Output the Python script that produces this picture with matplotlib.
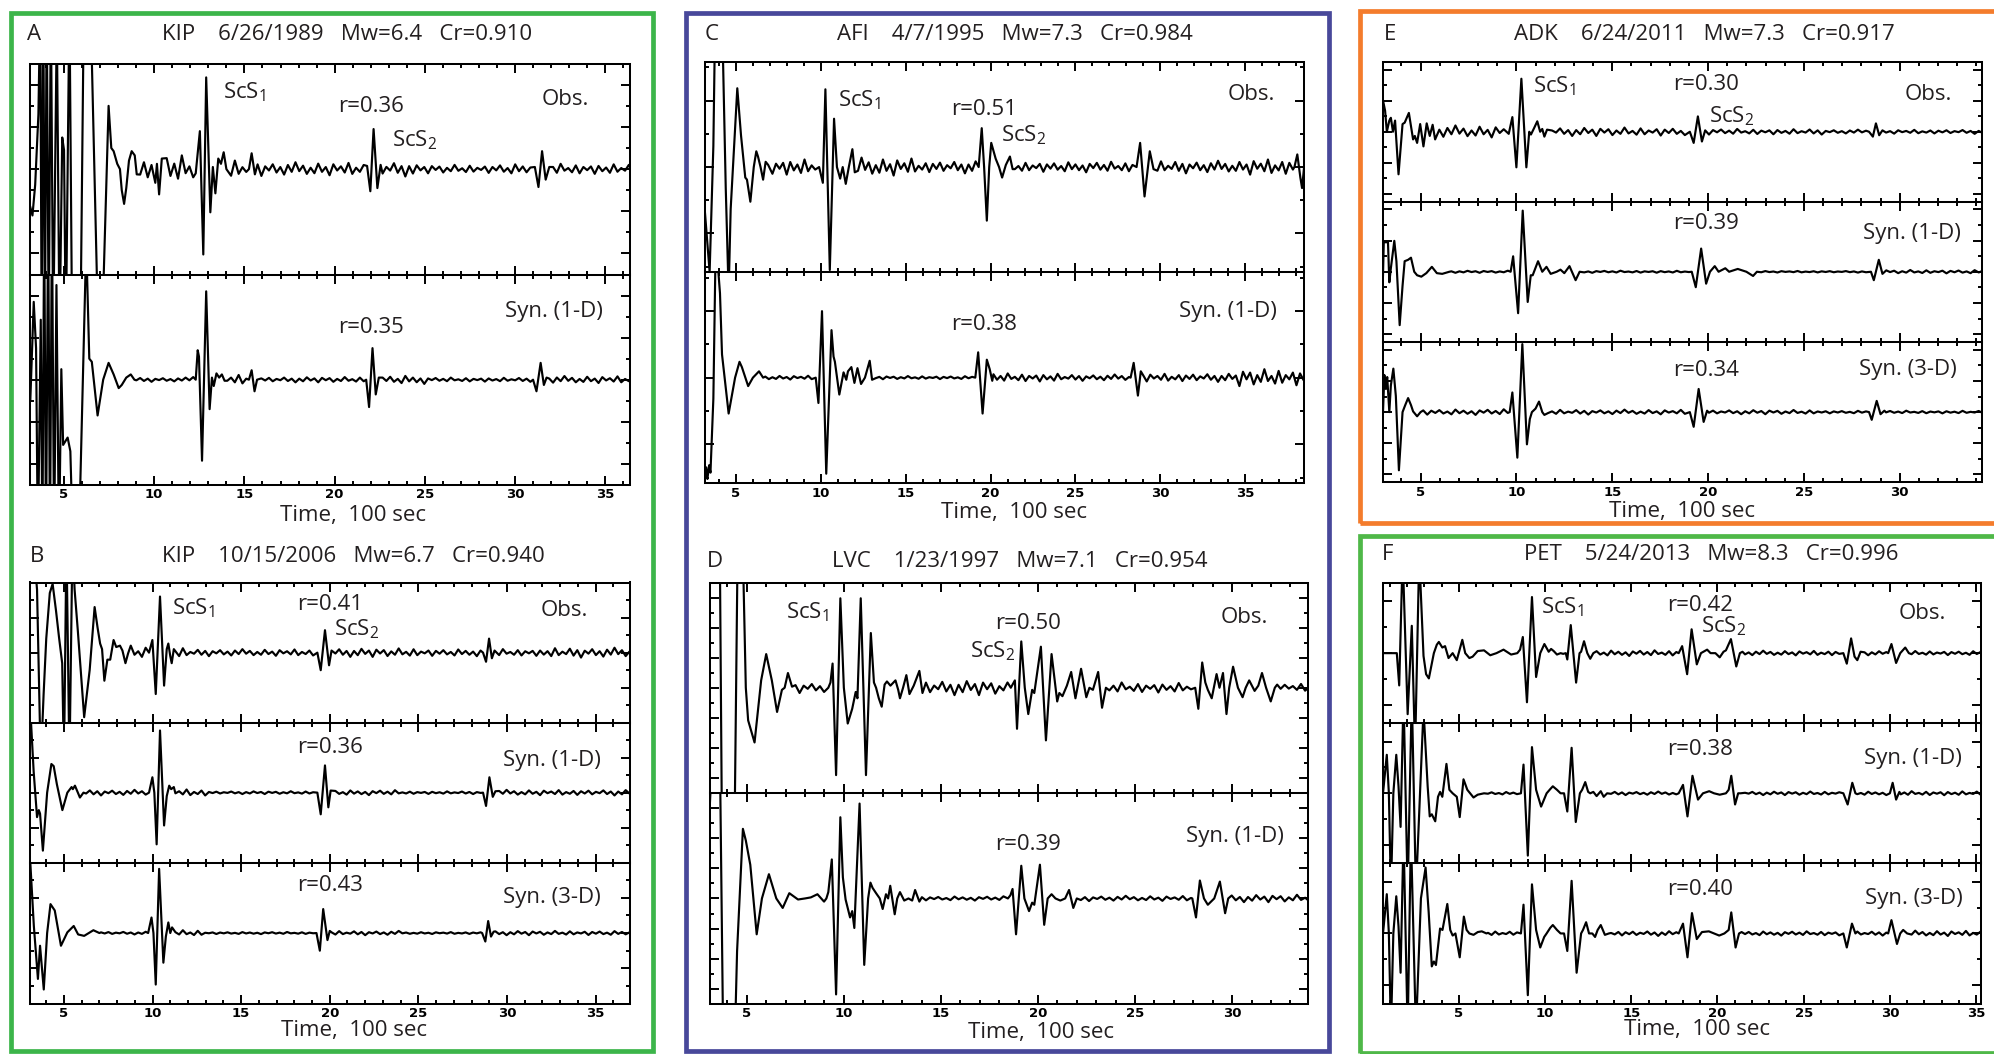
import numpy as np
import matplotlib
matplotlib.use("Agg")
import matplotlib.pyplot as plt
from matplotlib.patches import Rectangle
from matplotlib.ticker import FixedLocator, MultipleLocator

# ---------------------------------------------------------------------------
# Event metadata
# ---------------------------------------------------------------------------
PANEL_KEYS = ["A", "B", "C", "D", "E", "F"]
STATIONS = ["KIP", "KIP", "AFI", "LVC", "ADK", "PET"]
DATES = ["6/26/1989", "10/15/2006", "4/7/1995", "1/23/1997", "6/24/2011", "5/24/2013"]
MAGNITUDES = [6.4, 6.7, 7.3, 7.1, 7.3, 8.3]
CROSS_CORR = [0.910, 0.940, 0.984, 0.954, 0.917, 0.996]

TRACE_KINDS = {
    "A": ["obs", "syn1"],
    "B": ["obs", "syn1", "syn3"],
    "C": ["obs", "syn1"],
    "D": ["obs", "syn1"],
    "E": ["obs", "syn1", "syn3"],
    "F": ["obs", "syn1", "syn3"],
}
KIND_LABELS = {"obs": "Obs.", "syn1": "Syn. (1-D)", "syn3": "Syn. (3-D)"}

R_VALUES = {
    "A": [0.36, 0.35],
    "B": [0.41, 0.36, 0.43],
    "C": [0.51, 0.38],
    "D": [0.50, 0.39],
    "E": [0.30, 0.39, 0.34],
    "F": [0.42, 0.38, 0.40],
}

# ---------------------------------------------------------------------------
# Seismograms: turning points (time in 100 s, normalised amplitude) of each
# arrival group, plus a background microseism level per time window.
# ---------------------------------------------------------------------------
WIGGLE_STEP = 0.21
WIGGLE = [0.4, -0.6, 0.9, -0.3, 0.5, -1.0, 0.7, -0.2, 0.6, -0.8, 0.3, -0.5, 1.0, -0.4, 0.2,
          -0.7, 0.8, -0.6, 0.3, -0.2, 0.6, -0.9, 0.5, -0.3, 0.7, -0.5, 0.2, -0.8, 0.9, -0.4,
          0.5, -0.6, 0.3, -1.0, 0.6, -0.2, 0.8, -0.5, 0.4, -0.7, 1.0, -0.3, 0.2, -0.6, 0.7,
          -0.8, 0.4, -0.2, 0.5, -0.9, 0.6, -0.4, 0.3, -0.7, 0.9, -0.5, 0.2, -0.3, 0.8, -0.6,
          0.5, -1.0, 0.4, -0.2, 0.7, -0.5, 0.3, -0.8, 0.6, -0.4, 1.0, -0.3, 0.5, -0.7, 0.2,
          -0.6, 0.8, -0.4, 0.3, -0.9, 0.7, -0.2, 0.4, -0.5, 0.9, -0.7, 0.2, -0.4, 0.6, -0.8,
          0.5, -0.3, 0.7, -0.6, 0.3, -0.2, 0.8, -0.5, 0.4, -1.0]

# --- A: KIP 1989 ---
A_OBS = [
    [(3.13, -0.36), (3.25, -0.44), (3.4, -0.15), (3.58, 0.52), (3.68, 1.6), (3.76, -1.6), (3.85, 1.6),
     (3.94, -1.6), (4.04, 1.6), (4.15, -1.6), (4.27, 1.6), (4.4, -1.6), (4.6, 1.4), (4.75, -1.6),
     (4.9, 0.3), (5.0, 0.18), (5.1, -1.6), (5.3, 1.6), (5.45, -1.6), (5.9, -1.7), (6.1, 1.6),
     (6.45, 1.7), (6.9, -1.6), (7.1, -1.6), (7.47, 0.6), (7.62, 0.2), (7.75, 0.17), (7.95, 0.05),
     (8.1, 0.0), (8.2, -0.2), (8.33, -0.33), (8.45, -0.18), (8.6, 0.08), (8.75, 0.17), (8.92, 0.13),
     (9.03, -0.05)],
    [(10.15, 0.05), (10.27, -0.24), (10.42, 0.1)],
    [(12.3, -0.04), (12.53, 0.36), (12.72, -0.81), (12.88, 0.87), (13.11, -0.41), (13.25, 0.02),
     (13.39, -0.23), (13.55, 0.1), (13.7, 0.05), (13.85, 0.16), (14.0, 0.0)],
    [(15.25, 0.0), (15.4, 0.15), (15.58, -0.05)],
    [(21.8, 0.03), (21.98, -0.21), (22.16, 0.38), (22.37, -0.18), (22.55, 0.04)],
    [(31.1, 0.02), (31.3, -0.17), (31.5, 0.17), (31.7, -0.1), (31.9, 0.02)],
]
A_OBS_NOISE = [(3.0, 0.13), (14.0, 0.09), (15.8, 0.065), (22.5, 0.07), (24.5, 0.04), (29.0, 0.05)]

A_SYN1 = [
    [(3.13, -0.2), (3.32, 0.74), (3.45, 0.3), (3.55, -1.6), (3.71, 0.57), (3.8, -1.6), (3.9, 1.6),
     (4.0, -1.6), (4.12, 1.6), (4.22, -1.6), (4.33, 1.6), (4.45, -1.6), (4.58, 0.9), (4.72, -1.6),
     (4.85, 0.1), (4.95, -0.62), (5.2, -0.55), (5.35, -0.68), (5.5, -1.6), (5.8, -1.7), (6.23, 1.3),
     (6.4, 0.2), (6.54, 0.17), (6.86, -0.34), (7.17, 0.0), (7.47, 0.16), (7.75, 0.05), (8.03, -0.08),
     (8.2, -0.05), (8.45, 0.02), (8.7, 0.05), (8.9, 0.0)],
    [(12.3, 0.0), (12.41, 0.28), (12.48, 0.22), (12.65, -0.77), (12.88, 0.84), (13.07, -0.28),
     (13.2, 0.02), (13.3, -0.06), (13.45, 0.06), (13.6, 0.02), (13.75, 0.05), (13.9, -0.01)],
    [(15.25, 0.0), (15.4, 0.09), (15.56, -0.11), (15.7, 0.0)],
    [(21.75, 0.0), (21.91, -0.26), (22.1, 0.3), (22.28, -0.14), (22.45, 0.02)],
    [(31.0, 0.0), (31.19, -0.11), (31.42, 0.16), (31.6, -0.05), (31.75, 0.02)],
]
A_SYN1_NOISE = [(3.0, 0.02), (12.0, 0.05), (15.8, 0.025), (22.4, 0.04), (25.0, 0.02), (31.7, 0.035)]

# --- B: KIP 2006 ---
B_OBS = [
    [(3.1, 1.6), (3.25, 1.6), (3.48, 0.9), (3.69, -1.6), (3.85, -0.6), (4.0, 0.2), (4.2, 0.85),
     (4.36, 0.98), (4.55, 0.6), (4.72, 0.22), (4.9, -0.15), (5.0, -1.6), (5.14, 1.6), (5.31, -1.6),
     (5.48, 1.6), (5.6, 0.9), (5.78, 0.32), (6.14, -0.92), (6.45, -0.25), (6.73, 0.65), (6.9, 0.35),
     (7.04, 0.13), (7.15, 0.05), (7.28, -0.4), (7.45, -0.1), (7.61, -0.1), (7.8, 0.18), (7.95, 0.08),
     (8.16, 0.1), (8.3, 0.03), (8.47, -0.15), (8.62, -0.01)],
    [(9.8, 0.0), (9.99, 0.18), (10.18, -0.59), (10.42, 0.8), (10.65, -0.47), (10.8, 0.05),
     (10.89, 0.13), (11.0, -0.05), (11.08, -0.15), (11.2, 0.05)],
    [(19.3, 0.0), (19.49, -0.25), (19.73, 0.32), (19.96, -0.18), (20.1, 0.03)],
    [(28.65, 0.0), (28.82, -0.13), (28.99, 0.2), (29.15, -0.08), (29.3, 0.03)],
]
B_OBS_NOISE = [(3.0, 0.1), (11.2, 0.07), (12.0, 0.05), (20.1, 0.06), (25.0, 0.05), (32.0, 0.07)]

B_SYN1 = [
    [(3.1, 1.2), (3.29, 0.3), (3.48, -0.35), (3.58, -0.25), (3.65, -0.3), (3.81, -0.83), (4.05, 0.0),
     (4.29, 0.41), (4.42, 0.38), (4.6, 0.12), (4.91, -0.25), (5.19, 0.0), (5.43, 0.08), (5.5, 0.05),
     (5.62, 0.1), (5.9, -0.07), (6.1, 0.0)],
    [(9.8, 0.0), (9.99, 0.22), (10.1, 0.0), (10.23, -0.74), (10.42, 0.89), (10.65, -0.47),
     (10.8, -0.05), (10.94, 0.1), (11.05, 0.05), (11.2, 0.08)],
    [(19.3, 0.0), (19.49, -0.31), (19.73, 0.39), (19.92, -0.21), (20.05, 0.03)],
    [(28.65, 0.0), (28.82, -0.19), (29.01, 0.22), (29.2, -0.06), (29.35, 0.02)],
]
B_SYN1_NOISE = [(3.0, 0.04), (11.2, 0.05), (13.0, 0.02), (20.0, 0.035), (24.0, 0.02), (29.3, 0.04)]

B_SYN3 = [
    [(3.1, 1.0), (3.3, 0.1), (3.53, -0.65), (3.65, -0.18), (3.86, -0.8), (4.05, 0.0), (4.24, 0.41),
     (4.48, 0.32), (4.83, -0.18), (5.19, 0.01), (5.35, 0.05), (5.55, 0.1), (5.8, -0.02),
     (6.14, -0.04), (6.66, 0.04), (7.0, 0.0)],
    [(9.75, 0.0), (9.94, 0.22), (10.05, 0.0), (10.18, -0.73), (10.37, 0.91), (10.61, -0.42),
     (10.75, -0.05), (10.89, 0.15), (11.0, 0.0), (11.1, 0.08)],
    [(19.25, 0.0), (19.44, -0.25), (19.63, 0.34), (19.87, -0.1), (20.0, 0.03)],
    [(28.6, 0.0), (28.78, -0.12), (28.94, 0.17), (29.1, -0.05), (29.25, 0.02)],
]
B_SYN3_NOISE = [(3.0, 0.02), (10.9, 0.04), (12.8, 0.015), (20.0, 0.03), (24.0, 0.015), (29.3, 0.03)]

# --- C: AFI 1995 ---
C_OBS = [
    [(3.16, -0.4), (3.45, -1.0), (3.67, 0.2), (3.8, 1.7), (4.15, 1.7), (4.4, -0.2), (4.57, -1.2),
     (4.69, -0.4), (5.08, 0.75), (5.3, 0.3), (5.55, -0.1), (5.65, -0.12), (5.85, -0.33), (6.05, 0.0),
     (6.2, 0.15), (6.3, 0.1), (6.45, 0.0), (6.6, -0.12), (6.75, 0.05), (6.9, 0.02)],
    [(9.9, 0.0), (10.12, -0.15), (10.27, 0.74), (10.53, -0.98), (10.78, 0.46), (10.95, 0.0),
     (11.14, -0.11), (11.29, 0.0), (11.47, -0.16), (11.65, 0.0), (11.86, 0.17), (12.0, -0.05)],
    [(19.3, 0.0), (19.48, 0.37), (19.62, 0.0), (19.78, -0.51), (19.92, 0.0), (20.04, 0.23),
     (20.3, 0.08), (20.5, 0.0), (20.68, -0.1), (20.9, 0.02), (21.14, 0.1), (21.3, -0.02)],
    [(28.6, 0.0), (28.81, 0.23), (29.07, -0.28), (29.38, 0.15), (29.6, -0.02)],
    [(37.9, 0.0), (38.07, 0.12), (38.25, -0.1), (38.35, -0.2), (38.47, 0.0)],
]
C_OBS_NOISE = [(3.0, 0.08), (12.0, 0.09), (15.5, 0.06), (21.3, 0.05), (27.5, 0.05), (30.0, 0.06), (35.0, 0.08)]

C_SYN1 = [
    [(3.16, -0.97), (3.25, -0.85), (3.32, -0.96), (3.42, -0.83), (3.5, -0.9), (3.67, -0.2),
     (3.8, 1.2), (3.92, 1.1), (4.06, 0.8), (4.18, 0.22), (4.57, -0.34), (4.95, 0.0), (5.21, 0.15),
     (5.35, 0.1), (5.72, -0.08), (6.0, 0.0), (6.36, 0.06), (6.6, 0.0)],
    [(9.7, 0.0), (9.86, -0.24), (10.07, 0.63), (10.32, -0.91), (10.63, 0.45), (10.75, 0.2),
     (10.83, 0.15), (11.09, -0.16), (11.34, 0.05), (11.5, -0.02), (11.6, 0.06), (11.8, 0.1),
     (11.98, -0.05), (12.16, 0.09), (12.37, -0.06), (12.6, 0.0), (12.88, 0.16), (13.02, -0.02)],
    [(19.1, 0.0), (19.27, 0.24), (19.53, -0.34), (19.78, 0.17), (19.95, 0.08), (20.1, -0.03)],
    [(28.25, 0.0), (28.43, 0.14), (28.68, -0.17), (28.85, 0.06), (29.0, 0.02)],
]
C_SYN1_NOISE = [(3.0, 0.02), (13.0, 0.015), (20.1, 0.04), (24.0, 0.03), (29.0, 0.04), (34.5, 0.08)]

# --- D: LVC 1997 ---
D_OBS = [
    [(3.1, 1.6), (3.6, 1.6), (3.73, -1.6), (4.35, -1.7), (4.55, 1.7), (4.75, 1.7), (4.95, 0.0),
     (5.07, -0.31), (5.4, -0.52), (5.74, 0.07), (6.0, 0.32), (6.29, 0.07), (6.56, -0.23),
     (6.81, -0.02), (6.95, 0.0), (7.12, 0.14), (7.33, 0.01)],
    [(9.2, 0.0), (9.31, 0.05), (9.42, 0.23), (9.6, -0.83), (9.82, 0.85), (10.0, 0.0), (10.2, -0.34),
     (10.43, -0.2), (10.61, -0.04), (10.7, -0.1), (10.87, 0.85), (11.14, -0.83), (11.39, 0.52),
     (11.55, 0.05), (11.66, 0.0), (11.8, -0.1), (11.95, -0.18), (12.1, 0.03), (12.22, 0.06),
     (12.4, 0.02), (12.66, 0.07), (12.8, -0.02), (12.89, -0.1), (13.05, 0.0), (13.22, 0.12),
     (13.38, -0.06), (13.6, 0.02), (13.89, 0.16), (14.05, -0.05)],
    [(18.6, 0.0), (18.81, 0.07), (18.92, -0.39), (19.14, 0.44), (19.32, 0.0), (19.5, -0.25),
     (19.7, -0.02), (19.81, -0.05), (20.15, 0.39), (20.41, -0.5), (20.7, 0.32), (20.99, -0.13),
     (21.1, -0.05), (21.26, -0.08), (21.49, 0.02), (21.71, 0.15), (21.93, -0.1), (22.22, 0.18),
     (22.49, -0.09), (22.65, 0.0), (22.83, -0.02), (23.1, 0.15), (23.3, -0.19), (23.5, 0.0)],
    [(28.1, 0.0), (28.26, -0.2), (28.46, 0.24), (28.62, 0.05), (28.75, -0.02), (28.95, -0.1),
     (29.2, 0.13), (29.35, 0.0), (29.53, 0.14), (29.71, -0.25), (29.85, 0.0), (30.05, 0.2),
     (30.3, 0.0), (30.54, -0.09), (30.7, 0.0), (30.88, 0.07), (31.16, -0.03), (31.35, 0.02),
     (31.54, 0.14), (31.75, 0.0), (31.99, -0.13), (32.2, 0.0), (32.32, 0.03), (32.5, -0.01)],
]
D_OBS_NOISE = [(3.0, 0.05), (14.0, 0.07), (18.0, 0.05), (23.5, 0.05), (32.5, 0.04)]

D_SYN1 = [
    [(3.1, 0.9), (3.28, 1.6), (3.6, 1.6), (3.8, -1.6), (4.35, -1.6), (4.5, -0.5), (4.8, 0.66),
     (4.95, 0.55), (5.18, 0.32), (5.51, -0.34), (5.78, 0.0), (6.14, 0.23), (6.52, 0.0),
     (6.85, -0.09), (7.19, 0.05), (7.64, -0.01), (8.0, 0.0), (8.3, 0.01), (8.64, 0.04), (8.98, -0.03)],
    [(9.1, 0.0), (9.2, 0.06), (9.38, 0.37), (9.6, -0.91), (9.82, 0.77), (9.95, 0.2), (10.09, -0.01),
     (10.32, -0.18), (10.43, -0.12), (10.54, -0.28), (10.81, 0.9), (11.05, -0.63), (11.25, 0.0),
     (11.37, 0.15), (11.48, 0.1), (11.66, 0.05), (11.85, 0.0), (12.0, -0.1), (12.17, 0.04),
     (12.28, 0.0), (12.39, 0.12), (12.62, -0.15), (12.75, 0.0), (12.89, 0.06), (13.11, -0.02),
     (13.33, 0.0), (13.52, -0.02), (13.67, 0.08), (13.89, -0.03)],
    [(18.45, 0.0), (18.58, 0.03), (18.69, 0.09), (18.87, -0.34), (19.14, 0.31), (19.3, 0.0),
     (19.54, -0.12), (19.7, -0.04), (19.81, -0.06), (20.1, 0.32), (20.32, -0.25), (20.5, 0.0),
     (20.7, 0.04), (20.9, 0.0), (21.15, -0.02), (21.4, 0.0), (21.6, 0.08), (21.82, -0.09), (22.0, 0.0)],
    [(27.95, 0.0), (28.14, -0.18), (28.34, 0.17), (28.55, 0.0), (28.75, -0.06), (29.08, 0.0),
     (29.37, 0.16), (29.64, -0.14), (29.8, 0.0)],
]
D_SYN1_NOISE = [(3.0, 0.02), (14.0, 0.02), (22.0, 0.025), (29.8, 0.035)]

# --- E: ADK 2011 ---
E_OBS = [
    [(3.04, 0.45), (3.15, 0.3), (3.24, 0.0), (3.37, 0.16), (3.45, 0.2), (3.56, 0.0), (3.67, 0.16),
     (3.85, -0.61), (4.06, 0.11), (4.17, 0.13), (4.39, 0.27), (4.61, -0.11), (4.7, -0.06),
     (4.82, -0.16), (4.98, 0.11), (5.15, -0.21), (5.32, 0.12), (5.48, -0.06), (5.63, 0.1),
     (5.76, -0.11), (5.98, 0.03)],
    [(9.6, -0.03), (9.79, 0.21), (10.0, -0.51), (10.26, 0.76), (10.52, -0.51), (10.67, 0.0),
     (10.76, -0.04), (10.92, 0.05), (11.09, 0.15), (11.24, 0.0), (11.35, 0.04), (11.46, -0.07),
     (11.6, 0.03)],
    [(19.05, 0.0), (19.25, -0.16), (19.47, 0.22), (19.68, -0.14), (19.85, 0.02)],
    [(28.4, 0.0), (28.6, -0.07), (28.76, 0.12), (28.93, -0.05), (29.1, 0.02)],
]
E_OBS_NOISE = [(3.0, 0.09), (11.6, 0.06), (19.9, 0.04), (26.0, 0.03)]

E_SYN1 = [
    [(3.04, -0.05), (3.08, 0.42), (3.3, 0.42), (3.37, -0.15), (3.45, 0.05), (3.63, 0.44),
     (3.74, 0.15), (3.91, -0.76), (4.06, -0.2), (4.17, 0.15), (4.35, 0.17), (4.5, 0.2), (4.67, 0.0),
     (4.82, -0.05), (5.04, -0.07), (5.3, -0.02), (5.59, 0.07), (5.85, -0.02), (6.13, -0.03), (6.5, 0.0)],
    [(9.7, 0.0), (9.83, 0.22), (10.09, -0.59), (10.33, 0.87), (10.59, -0.43), (10.75, -0.05),
     (10.85, -0.05), (11.13, 0.15), (11.35, 0.0), (11.57, 0.07), (11.79, -0.03), (12.1, 0.0),
     (12.3, 0.03), (12.5, -0.02), (12.77, 0.08), (13.09, -0.12), (13.3, 0.0)],
    [(19.15, 0.0), (19.36, -0.22), (19.64, 0.33), (19.9, -0.17), (20.1, 0.0), (20.35, 0.08),
     (20.55, 0.0), (20.9, 0.05), (21.1, 0.0), (21.55, 0.04), (22.0, 0.0), (22.35, -0.06), (22.55, 0.0)],
    [(28.5, 0.0), (28.65, -0.12), (28.91, 0.17), (29.1, -0.03), (29.3, 0.02)],
]
E_SYN1_NOISE = [(3.0, 0.015), (13.3, 0.015), (22.6, 0.012), (29.3, 0.025)]

E_SYN3 = [
    [(3.04, 0.0), (3.11, 0.53), (3.19, 0.33), (3.26, 0.5), (3.37, 0.0), (3.45, 0.38), (3.58, 0.62),
     (3.71, 0.23), (3.87, -0.83), (4.06, 0.0), (4.2, 0.1), (4.35, 0.2), (4.5, 0.1), (4.61, 0.01),
     (4.82, -0.06), (5.0, 0.0)],
    [(9.65, 0.0), (9.79, 0.28), (10.05, -0.65), (10.31, 0.97), (10.55, -0.46), (10.7, -0.1),
     (10.81, 0.0), (11.0, 0.05), (11.18, 0.15), (11.35, 0.0), (11.46, -0.04)],
    [(19.05, 0.0), (19.25, -0.21), (19.51, 0.33), (19.77, -0.14), (19.95, 0.02)],
    [(28.4, 0.0), (28.54, -0.11), (28.8, 0.16), (29.0, -0.03), (29.2, 0.02)],
]
E_SYN3_NOISE = [(3.0, 0.04), (11.5, 0.035), (20.0, 0.03), (26.0, 0.02)]

# --- F: PET 2013 ---
F_OBS = [
    [(0.6, 0.0), (1.4, 0.0), (1.54, -0.46), (1.74, 1.4), (2.03, -0.87), (2.27, 0.39), (2.46, -1.4),
     (2.7, 1.4), (2.95, -0.04), (3.1, -0.3), (3.26, -0.36), (3.55, 0.0), (3.72, 0.12), (3.84, 0.16),
     (4.04, 0.08), (4.2, 0.1), (4.4, -0.07), (4.64, 0.0), (4.88, -0.1), (5.2, 0.19), (5.37, 0.0),
     (5.61, -0.07), (5.8, -0.05), (6.09, 0.03), (6.46, 0.04), (6.82, -0.03), (7.18, 0.0),
     (7.59, 0.05), (8.03, -0.02), (8.39, 0.0)],
    [(8.55, 0.05), (8.71, 0.23), (8.95, -0.7), (9.24, 0.8), (9.48, -0.34), (9.72, 0.0), (9.96, 0.13),
     (10.21, 0.02), (10.35, 0.06), (10.5, 0.03), (10.69, -0.02), (10.9, 0.0), (11.05, -0.01)],
    [(11.2, 0.0), (11.29, -0.09), (11.49, 0.4), (11.8, -0.42), (12.0, 0.0), (12.09, 0.02),
     (12.26, 0.17), (12.45, 0.0), (12.62, -0.08), (12.8, 0.0)],
    [(17.75, 0.0), (17.95, 0.1), (18.24, -0.3), (18.5, 0.34), (18.8, -0.16), (19.04, 0.0),
     (19.25, 0.03), (19.4, 0.05), (19.6, 0.0), (19.88, 0.0), (20.13, -0.06), (20.35, 0.02),
     (20.49, 0.04), (20.78, 0.2), (21.09, -0.19), (21.3, 0.0), (21.45, 0.02)],
    [(27.3, 0.0), (27.5, -0.15), (27.75, 0.21), (27.95, -0.05), (28.11, -0.1), (28.3, 0.02)],
    [(29.9, 0.0), (30.09, 0.13), (30.36, -0.14), (30.6, 0.0), (30.89, 0.08), (31.1, 0.0)],
]
F_OBS_NOISE = [(0.0, 0.04), (12.8, 0.04), (21.5, 0.035), (28.3, 0.03)]

F_SYN1 = [
    [(0.6, 0.0), (0.72, 0.3), (0.82, 0.55), (0.94, 0.0), (1.06, -1.4), (1.2, 0.0), (1.37, 0.55),
     (1.5, 0.1), (1.62, -0.48), (1.79, 1.4), (2.03, -1.4), (2.27, 1.4), (2.51, -1.4), (2.95, 1.2),
     (3.19, 0.1), (3.31, -0.33), (3.43, -0.3), (3.63, -0.4), (3.79, -0.05), (3.91, 0.02),
     (4.04, -0.05), (4.28, 0.42), (4.45, 0.05), (4.64, 0.0), (4.88, -0.05), (5.05, -0.34),
     (5.27, 0.2), (5.49, 0.05), (5.85, -0.06), (6.09, -0.02), (6.46, 0.0)],
    [(8.6, 0.0), (8.75, 0.41), (9.0, -0.89), (9.24, 0.66), (9.48, 0.05), (9.77, -0.19), (10.09, 0.0),
     (10.3, 0.06), (10.45, 0.1), (10.69, 0.05), (10.9, 0.0)],
    [(11.1, 0.0), (11.29, -0.26), (11.54, 0.65), (11.78, -0.41), (12.02, 0.0), (12.15, 0.05),
     (12.33, 0.16), (12.5, 0.02), (12.62, 0.0), (12.8, 0.02), (12.99, -0.04), (13.23, 0.03),
     (13.4, -0.05), (13.6, 0.0)],
    [(17.75, 0.0), (18.0, 0.12), (18.26, -0.33), (18.55, 0.25), (18.87, -0.09), (19.16, 0.0),
     (19.52, 0.03), (19.8, 0.0), (20.13, -0.02), (20.49, 0.0), (20.65, 0.05), (20.8, 0.25),
     (21.02, -0.16), (21.2, 0.0), (21.34, 0.0)],
    [(27.3, 0.0), (27.55, -0.16), (27.82, 0.15), (28.0, 0.0)],
    [(30.0, 0.0), (30.16, 0.15), (30.36, -0.09), (30.55, 0.02)],
]
F_SYN1_NOISE = [(0.0, 0.02), (13.6, 0.025), (21.3, 0.025), (30.5, 0.03)]

F_SYN3 = [
    [(0.6, 0.0), (0.72, 0.3), (0.82, 0.56), (0.94, 0.0), (1.06, -1.4), (1.2, 0.0), (1.37, 0.53),
     (1.5, 0.1), (1.62, -0.56), (1.79, 1.4), (2.03, -1.4), (2.22, 1.4), (2.51, -1.4), (2.8, 0.5),
     (3.07, 0.94), (3.25, 0.3), (3.43, -0.47), (3.55, -0.4), (3.67, -0.45), (3.91, 0.07),
     (4.05, 0.05), (4.33, 0.42), (4.5, 0.05), (4.64, -0.03), (4.8, 0.0), (5.05, -0.34), (5.29, 0.24),
     (5.45, 0.05), (5.61, 0.0), (5.85, -0.02), (6.1, 0.02), (6.33, 0.03), (6.6, 0.0)],
    [(8.6, 0.0), (8.75, 0.41), (9.0, -0.88), (9.24, 0.7), (9.48, 0.05), (9.72, -0.2), (9.95, -0.05),
     (10.09, 0.0), (10.3, 0.08), (10.45, 0.12), (10.69, 0.05), (10.9, 0.0)],
    [(11.1, 0.0), (11.29, -0.25), (11.54, 0.75), (11.83, -0.56), (12.09, 0.0), (12.2, 0.05),
     (12.38, 0.16), (12.55, 0.0), (12.74, 0.0), (12.9, -0.05), (13.05, 0.05), (13.23, 0.12),
     (13.47, -0.02), (13.7, 0.0)],
    [(17.75, 0.0), (18.0, 0.14), (18.26, -0.34), (18.52, 0.29), (18.8, -0.08), (19.1, 0.02),
     (19.5, 0.03), (19.8, 0.0), (20.1, -0.03), (20.4, 0.0), (20.65, 0.05), (20.8, 0.3),
     (21.05, -0.2), (21.25, 0.0), (21.4, 0.02)],
    [(27.3, 0.0), (27.5, -0.2), (27.8, 0.14), (28.0, 0.0)],
    [(29.9, 0.0), (30.09, 0.19), (30.41, -0.15), (30.6, 0.0), (30.77, 0.05), (31.0, 0.0)],
]
F_SYN3_NOISE = [(0.0, 0.03), (13.7, 0.035), (21.4, 0.03), (31.0, 0.04)]

TRACES = {
    "A": [(A_OBS, A_OBS_NOISE), (A_SYN1, A_SYN1_NOISE)],
    "B": [(B_OBS, B_OBS_NOISE), (B_SYN1, B_SYN1_NOISE), (B_SYN3, B_SYN3_NOISE)],
    "C": [(C_OBS, C_OBS_NOISE), (C_SYN1, C_SYN1_NOISE)],
    "D": [(D_OBS, D_OBS_NOISE), (D_SYN1, D_SYN1_NOISE)],
    "E": [(E_OBS, E_OBS_NOISE), (E_SYN1, E_SYN1_NOISE), (E_SYN3, E_SYN3_NOISE)],
    "F": [(F_OBS, F_OBS_NOISE), (F_SYN1, F_SYN1_NOISE), (F_SYN3, F_SYN3_NOISE)],
}

# ---------------------------------------------------------------------------
# Page layout (pixel positions on the 1994 x 1054 page)
# ---------------------------------------------------------------------------
W, H, DPI = 1994, 1054, 100

LAYOUT = {
    "A": dict(x=(30.3, 630.1), rows=[63.7, 274.5, 484.9], xlim=(3.13, 36.38), ystep=0.2,
              letter=(27.3, 35), title=(346.6, 34.7), xlabel=(352.7, 515.6),
              scs1=(13.84, 0.73), scs2=(23.2, 0.27),
              rpos=[(20.2, 0.59), (20.2, 0.50)], kindpos=[(31.5, 0.66), (29.44, 0.65)]),
    "B": dict(x=(30.3, 630.1), rows=[582.5, 722.8, 862.5, 1003.6], xlim=(3.1, 36.95), ystep=0.25,
              letter=(30.3, 557), title=(353.6, 557), xlabel=(354, 1030.3),
              scs1=(11.08, 0.63), scs2=(20.23, 0.33),
              rpos=[(18.16, 0.68), (18.16, 0.65), (18.16, 0.68)],
              kindpos=[(31.9, 0.6), (29.77, 0.46), (29.77, 0.51)]),
    "C": dict(x=(704.7, 1304.1), rows=[62, 272.1, 483.2], xlim=(3.16, 38.47), ystep=0.316,
              letter=(704.7, 34.4), title=(1014.4, 34.4), xlabel=(1013.9, 512.1),
              scs1=(11.04, 0.64), scs2=(20.6, 0.3),
              rpos=[(17.69, 0.55), (17.69, 0.50)], kindpos=[(33.98, 0.69), (31.09, 0.63)]),
    "D": dict(x=(709.9, 1308.4), rows=[582.5, 793, 1003.9], xlim=(3.10, 33.93), ystep=1 / 7,
              letter=(706.9, 561.7), title=(1020.2, 561.7), xlabel=(1040.8, 1032.3),
              scs1=(7.03, 0.72), scs2=(16.5, 0.35),
              rpos=[(17.8, 0.61), (17.8, 0.51)], kindpos=[(29.42, 0.67), (27.63, 0.59)]),
    "E": dict(x=(1383.0, 1982.3), rows=[62, 201.5, 342, 482.2], xlim=(3.04, 34.31), ystep=0.222,
              letter=(1383.8, 34.4), title=(1703.9, 34.4), xlabel=(1681.6, 511.4),
              scs1=(10.87, 0.66), scs2=(20.05, 0.22),
              rpos=[(18.2, 0.68), (18.2, 0.69), (18.2, 0.6)],
              kindpos=[(30.28, 0.53), (28.1, 0.55), (27.89, 0.61)]),
    "F": dict(x=(1383.0, 1981.1), rows=[583, 723.3, 863.3, 1003.6], xlim=(0.6, 35.29), ystep=0.369,
              letter=(1381.7, 554.1), title=(1711.2, 554.1), xlabel=(1696.6, 1029.9),
              scs1=(9.79, 0.65), scs2=(19.04, 0.39),
              rpos=[(17.1, 0.68), (17.1, 0.63), (17.1, 0.63)],
              kindpos=[(30.53, 0.56), (28.47, 0.5), (28.55, 0.5)]),
}

# Coloured frames grouping the panels: (x0, y0, x1, y1, colour)
FRAMES = [
    (10.5, 13.3, 652.5, 1051.0, "#3cb54a"),
    (686.3, 12.9, 1328.7, 1051.0, "#48489a"),
    (1360.0, 10.8, 2010.0, 523.0, "#f47c2c"),
    (1360.0, 535.5, 2010.0, 1052.8, "#4fb848"),
]

TEXT_FONT = ["Open Sans", "DejaVu Sans"]
TICK_FONT = ["Liberation Sans Narrow", "DejaVu Sans"]
INK = "#231f20"
TEXT_SIZE = 16

plt.rcParams["mathtext.fontset"] = "custom"
plt.rcParams["mathtext.rm"] = "Open Sans"
plt.rcParams["mathtext.it"] = "Open Sans:italic"
plt.rcParams["mathtext.bf"] = "Open Sans:bold"


def fx(px):
    return px / W


def fy(py):
    return 1.0 - py / H


def build_trace(clusters, levels, xlim, shift):
    """Merge arrival groups with the background microseism wiggle."""
    wig = np.asarray(WIGGLE, dtype=float)
    bt = np.arange(xlim[0], xlim[1] + WIGGLE_STEP, WIGGLE_STEP)
    bv = wig[(np.arange(bt.size) + shift) % wig.size]
    lv = np.zeros_like(bt)
    for start, amp in levels:
        lv[bt >= start] = amp
    bv = bv * lv
    keep = np.ones(bt.size, dtype=bool)
    for grp in clusters:
        lo, hi = grp[0][0], grp[-1][0]
        keep &= ~((bt >= lo - 0.06) & (bt <= hi + 0.06))
    ct = np.array([p[0] for grp in clusters for p in grp])
    cv = np.array([p[1] for grp in clusters for p in grp])
    t = np.concatenate([bt[keep], ct])
    v = np.concatenate([bv[keep], cv])
    order = np.argsort(t, kind="stable")
    return t[order], v[order]


def style_axes(ax, xlim, ystep, show_labels):
    ax.set_xlim(*xlim)
    ax.set_ylim(-1, 1)
    nstep = int(np.floor(1.0 / ystep + 1e-6))
    ks = [k for k in range(-nstep, nstep + 1) if abs(k * ystep) < 0.985]
    ax.yaxis.set_major_locator(FixedLocator([k * ystep for k in ks if k % 2 == 0]))
    ax.yaxis.set_minor_locator(FixedLocator([k * ystep for k in ks if k % 2 != 0]))
    majors = [v for v in range(0, 60, 5) if xlim[0] < v < xlim[1]]
    ax.set_xticks(majors)
    ax.xaxis.set_minor_locator(MultipleLocator(1))
    if show_labels:
        ax.set_xticklabels([str(v) for v in majors], fontfamily=TICK_FONT,
                           fontweight="bold", fontsize=9.5, color="black")
    ax.tick_params(which="both", direction="in", top=True, right=True, width=1.4,
                   labelleft=False, labelbottom=show_labels, pad=2.5, colors="black")
    ax.tick_params(which="major", length=6.7)
    ax.tick_params(which="minor", length=3.2)
    for sp in ax.spines.values():
        sp.set_linewidth(1.45)
        sp.set_color("black")
    ax.set_facecolor("none")


fig = plt.figure(figsize=(W / DPI, H / DPI), dpi=DPI)
fig.patch.set_facecolor("white")

for (x0, y0, x1, y1, col) in FRAMES:
    fig.add_artist(Rectangle((fx(x0), fy(y1)), fx(x1) - fx(x0), fy(y0) - fy(y1),
                             transform=fig.transFigure, fill=False, edgecolor=col,
                             linewidth=3.4, zorder=0))

txt = dict(fontfamily=TEXT_FONT, color=INK, fontsize=TEXT_SIZE)

for i, key in enumerate(PANEL_KEYS):
    lay = LAYOUT[key]
    left, right = lay["x"]
    rows = lay["rows"]
    kinds = TRACE_KINDS[key]
    n = len(kinds)
    for j in range(n):
        top, bot = rows[j], rows[j + 1]
        ax = fig.add_axes([fx(left), fy(bot), fx(right) - fx(left), fy(top) - fy(bot)])
        style_axes(ax, lay["xlim"], lay["ystep"], show_labels=(j == n - 1))
        clusters, levels = TRACES[key][j]
        t, v = build_trace(clusters, levels, lay["xlim"], shift=13 * i + 29 * j)
        ax.plot(t, v, color="black", linewidth=1.55, solid_joinstyle="round")

        rx, ry = lay["rpos"][j]
        ax.text(rx, ry, f"r={R_VALUES[key][j]:.2f}", ha="left", va="center", **txt)
        kx, ky = lay["kindpos"][j]
        ax.text(kx, ky, KIND_LABELS[kinds[j]], ha="left", va="center", **txt)
        if j == 0:
            sx, sy = lay["scs1"]
            ax.text(sx, sy, r"ScS$_1$", ha="left", va="center", **txt)
            sx, sy = lay["scs2"]
            ax.text(sx, sy, r"ScS$_2$", ha="left", va="center", **txt)

    lx, ly = lay["letter"]
    fig.text(fx(lx), fy(ly), key, ha="left", va="center", **txt)
    tx, ty = lay["title"]
    title = (f"{STATIONS[i]}    {DATES[i]}   Mw={MAGNITUDES[i]:.1f}   "
             f"Cr={CROSS_CORR[i]:.3f}")
    fig.text(fx(tx), fy(ty), title, ha="center", va="center", **txt)
    xx, xy = lay["xlabel"]
    fig.text(fx(xx), fy(xy), "Time,  100 sec", ha="center", va="center", **txt)

fig.savefig("out.png", dpi=DPI, facecolor="white")
